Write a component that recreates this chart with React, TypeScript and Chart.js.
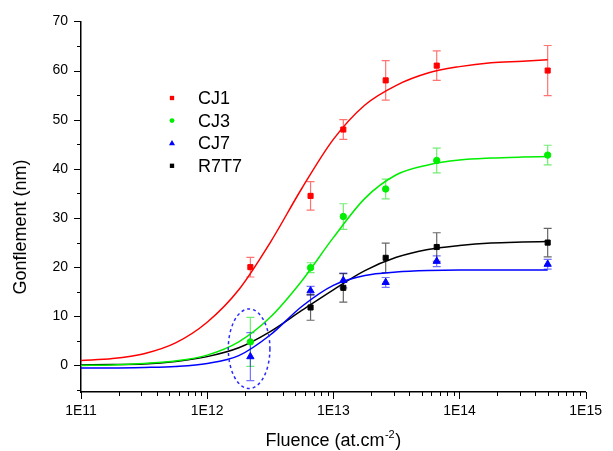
import React, { useEffect, useRef } from 'react';
import { Chart, registerables } from 'chart.js';

Chart.register(...registerables);

// ---------- data ----------
const FLUENCE = [2.2e12, 6.6e12, 1.2e13, 2.6e13, 6.6e13, 5e14];
const CJ1 = [20.0, 34.5, 48.0, 58.0, 61.0, 60.0];
const CJ1_ERR = [2.0, 2.9, 2.0, 4.0, 3.0, 5.1];
const CJ3 = [4.8, 19.9, 30.3, 35.9, 41.7, 42.8];
const CJ3_ERR = [5.0, 1.0, 2.6, 2.0, 2.5, 2.0];
const CJ7 = [1.8, 15.2, 17.3, 16.9, 21.2, 20.6];
const CJ7_ERR = [4.9, 0.9, 1.5, 1.0, 1.1, 1.0];
const R7T7 = [null, 11.8, 15.8, 21.9, 24.1, 25.0];
const R7T7_ERR = [null, 2.6, 2.9, 3.0, 2.9, 2.9];

const CURVE_X = [1e11, 1.78e11, 3.16e11, 5.62e11, 1e12, 1.78e12, 3.16e12, 5.62e12, 1e13, 1.78e13, 3.16e13, 5.62e13, 1e14, 1.78e14, 3.16e14, 5e14];
const CJ1_FIT = [1.0, 1.4, 2.4, 4.6, 8.8, 15.4, 25.0, 36.0, 46.0, 53.0, 57.0, 59.5, 60.8, 61.6, 61.9, 62.2];
const CJ3_FIT = [0.0, 0.1, 0.4, 0.9, 2.1, 4.8, 9.8, 17.2, 26.0, 34.0, 38.8, 40.8, 41.8, 42.2, 42.4, 42.5];
const CJ7_FIT = [-0.5, -0.5, -0.4, -0.2, 0.4, 2.0, 6.2, 12.0, 16.3, 18.3, 19.0, 19.3, 19.4, 19.4, 19.4, 19.4];
const R7T7_FIT = [0.1, 0.2, 0.3, 0.8, 1.8, 3.6, 6.9, 11.2, 15.4, 19.3, 22.0, 23.6, 24.4, 24.9, 25.1, 25.2];

const SERIES_LABELS = ['CJ1', 'CJ3', 'CJ7', 'R7T7'];
const X_TICKS = [1e11, 1e12, 1e13, 1e14, 1e15];
const X_TICK_LABELS = ['1E11', '1E12', '1E13', '1E14', '1E15'];
const X_MINOR_MULT = [2, 3, 4, 5, 6, 7, 8, 9];
const Y_TICKS = [0, 10, 20, 30, 40, 50, 60, 70];
const Y_MINOR = [-5, 5, 15, 25, 35, 45, 55, 65];
const X_MIN = 1e11, X_MAX = 1e15, Y_MIN = -5.4, Y_MAX = 70;

// highlighted group (dashed ellipse) in data units
const ELLIPSE_X = 2.15e12, ELLIPSE_Y = 3.4, ELLIPSE_HALF_DECADES = 0.165, ELLIPSE_HALF_Y = 8.1;

const X_TITLE = 'Fluence (at.cm';
const X_TITLE_SUP = '-2';
const X_TITLE_END = ')';
const Y_TITLE = 'Gonflement (nm)';

// ---------- styles ----------
const FONT = '"Liberation Sans", Arial, sans-serif';
const COLORS = ['#ff0000', '#00ee00', '#0000ff', '#000000'];
const ERR_COLORS = ['rgba(255,0,0,0.55)', 'rgba(0,220,0,0.55)', 'rgba(0,0,255,0.55)', 'rgba(0,0,0,0.6)'];
const STYLES = ['rect', 'circle', 'triangle', 'rect'];
const RADII = [3.6, 3.2, 4.2, 3.6];

const SERIES = [
  { label: SERIES_LABELS[0], values: CJ1, errs: CJ1_ERR, fit: CJ1_FIT },
  { label: SERIES_LABELS[1], values: CJ3, errs: CJ3_ERR, fit: CJ3_FIT },
  { label: SERIES_LABELS[2], values: CJ7, errs: CJ7_ERR, fit: CJ7_FIT },
  { label: SERIES_LABELS[3], values: R7T7, errs: R7T7_ERR, fit: R7T7_FIT },
];

function drawMarker(ctx: CanvasRenderingContext2D, style: string, x: number, y: number, r: number, color: string) {
  ctx.save();
  ctx.fillStyle = color;
  ctx.beginPath();
  if (style === 'rect') {
    const s = r * Math.SQRT1_2;
    ctx.rect(x - s, y - s, 2 * s, 2 * s);
  } else if (style === 'circle') {
    ctx.arc(x, y, r * 0.9, 0, Math.PI * 2);
  } else {
    const h = r * 1.5;
    ctx.moveTo(x, y - h * 0.6);
    ctx.lineTo(x + r * 0.85, y + h * 0.4);
    ctx.lineTo(x - r * 0.85, y + h * 0.4);
    ctx.closePath();
  }
  ctx.fill();
  ctx.restore();
}

const decorPlugin = {
  id: 'decor',
  beforeDatasetsDraw(chart: any) {
    const { ctx, scales } = chart;
    const xs = scales.x, ys = scales.y;
    SERIES.forEach((s, si) => {
      ctx.save();
      ctx.strokeStyle = ERR_COLORS[si];
      ctx.lineWidth = 1.2;
      FLUENCE.forEach((f, i) => {
        const v = s.values[i], e = s.errs[i];
        if (v == null || e == null) return;
        const px = xs.getPixelForValue(f);
        const top = ys.getPixelForValue(v + e);
        const bot = ys.getPixelForValue(v - e);
        ctx.beginPath();
        ctx.moveTo(px, top); ctx.lineTo(px, bot);
        ctx.moveTo(px - 4, top); ctx.lineTo(px + 4, top);
        ctx.moveTo(px - 4, bot); ctx.lineTo(px + 4, bot);
        ctx.stroke();
      });
      ctx.restore();
    });
  },
  afterDraw(chart: any) {
    const { ctx, scales, chartArea } = chart;
    const xs = scales.x, ys = scales.y;
    const { left, right, top, bottom } = chartArea;
    ctx.save();
    // tick marks
    ctx.strokeStyle = '#000';
    ctx.lineWidth = 1;
    ctx.beginPath();
    X_TICKS.forEach((t) => {
      const px = Math.round(xs.getPixelForValue(t)) + 0.5;
      ctx.moveTo(px, bottom); ctx.lineTo(px, bottom + 7);
    });
    X_TICKS.slice(0, -1).forEach((t) => {
      X_MINOR_MULT.forEach((m) => {
        const px = Math.round(xs.getPixelForValue(t * m)) + 0.5;
        ctx.moveTo(px, bottom); ctx.lineTo(px, bottom + 4);
      });
    });
    Y_TICKS.forEach((t) => {
      const py = Math.round(ys.getPixelForValue(t)) + 0.5;
      ctx.moveTo(left, py); ctx.lineTo(left - 7, py);
    });
    Y_MINOR.forEach((t) => {
      const py = Math.round(ys.getPixelForValue(t)) + 0.5;
      ctx.moveTo(left, py); ctx.lineTo(left - 4, py);
    });
    ctx.stroke();

    // dashed ellipse
    const cx = xs.getPixelForValue(ELLIPSE_X);
    const rx = xs.getPixelForValue(ELLIPSE_X * Math.pow(10, ELLIPSE_HALF_DECADES)) - cx;
    const cy = ys.getPixelForValue(ELLIPSE_Y);
    const ry = cy - ys.getPixelForValue(ELLIPSE_Y + ELLIPSE_HALF_Y);
    ctx.beginPath();
    ctx.setLineDash([3, 3]);
    ctx.strokeStyle = '#2a2aff';
    ctx.lineWidth = 1.5;
    ctx.ellipse(cx, cy, rx, ry, 0, 0, Math.PI * 2);
    ctx.stroke();
    ctx.setLineDash([]);

    // legend
    const lx = 172, tx = 198, ly0 = 98, dy = 22.6;
    ctx.font = `18px ${FONT}`;
    ctx.textBaseline = 'middle';
    ctx.textAlign = 'left';
    ctx.fillStyle = '#000';
    SERIES.forEach((s, i) => {
      const yy = ly0 + i * dy;
      drawMarker(ctx, STYLES[i], lx, yy, RADII[i] * 0.85, COLORS[i]);
      ctx.fillStyle = '#000';
      ctx.fillText(s.label, tx, yy + 1);
    });

    // y title
    ctx.save();
    ctx.translate(21, 227);
    ctx.rotate(-Math.PI / 2);
    ctx.textAlign = 'center';
    ctx.textBaseline = 'middle';
    ctx.font = `18px ${FONT}`;
    ctx.fillText(Y_TITLE, 0, 0);
    ctx.restore();

    // x title with superscript
    ctx.font = `18px ${FONT}`;
    const w1 = ctx.measureText(X_TITLE).width;
    const w3 = ctx.measureText(X_TITLE_END).width;
    ctx.font = `11px ${FONT}`;
    const w2 = ctx.measureText(X_TITLE_SUP).width;
    const total = w1 + w2 + w3 + 1;
    const x0 = (left + right) / 2 - total / 2;
    const base = 446;
    ctx.textBaseline = 'alphabetic';
    ctx.textAlign = 'left';
    ctx.font = `18px ${FONT}`;
    ctx.fillText(X_TITLE, x0, base);
    ctx.font = `11px ${FONT}`;
    ctx.fillText(X_TITLE_SUP, x0 + w1 + 0.5, base - 8);
    ctx.font = `18px ${FONT}`;
    ctx.fillText(X_TITLE_END, x0 + w1 + w2 + 1, base);
    ctx.restore();
  },
};

export default function App() {
  const ref = useRef<HTMLCanvasElement | null>(null);
  useEffect(() => {
    if (!ref.current) return;
    const datasets: any[] = [];
    SERIES.forEach((s, i) => {
      datasets.push({
        label: s.label + ' fit',
        data: CURVE_X.map((x, k) => ({ x, y: s.fit[k] })),
        showLine: true,
        borderColor: COLORS[i],
        borderWidth: 1.5,
        pointRadius: 0,
        cubicInterpolationMode: 'monotone',
        order: 2,
      });
    });
    SERIES.forEach((s, i) => {
      datasets.push({
        label: s.label,
        data: FLUENCE.map((x, k) => ({ x, y: s.values[k] })).filter((p) => p.y != null),
        showLine: false,
        pointStyle: STYLES[i],
        pointRadius: RADII[i],
        pointBackgroundColor: COLORS[i],
        pointBorderColor: COLORS[i],
        pointBorderWidth: 1,
        order: 1,
      });
    });
    const chart = new Chart(ref.current, {
      type: 'scatter',
      data: { datasets },
      options: {
        animation: false,
        responsive: false,
        devicePixelRatio: 1,
        layout: { padding: { top: 19, right: 19, left: 0, bottom: 0 } },
        plugins: { legend: { display: false }, tooltip: { enabled: false } },
        scales: {
          x: {
            type: 'logarithmic',
            min: X_MIN,
            max: X_MAX,
            afterBuildTicks: (s: any) => { s.ticks = X_TICKS.map((v) => ({ value: v })); },
            afterFit: (s: any) => { s.height = 59; },
            grid: { display: false, drawTicks: false },
            border: { display: true, color: '#000', width: 1.5 },
            ticks: {
              autoSkip: false,
              maxRotation: 0,
              padding: 11,
              color: '#000',
              font: { family: FONT, size: 14 },
              callback: (_v: any, i: number) => X_TICK_LABELS[i],
            },
          },
          y: {
            type: 'linear',
            min: Y_MIN,
            max: Y_MAX,
            afterBuildTicks: (s: any) => { s.ticks = Y_TICKS.map((v) => ({ value: v })); },
            afterFit: (s: any) => { s.width = 81; },
            grid: { display: false, drawTicks: false },
            border: { display: true, color: '#000', width: 1.5 },
            ticks: {
              padding: 13,
              color: '#000',
              font: { family: FONT, size: 14 },
              callback: (v: any) => String(v),
            },
          },
        },
      },
      plugins: [decorPlugin],
    } as any);
    return () => chart.destroy();
  }, []);
  return (
    <div style={{ position: 'absolute', left: 0, top: 0, width: 613, height: 451, background: '#fff' }}>
      <canvas ref={ref} width={613} height={451} />
    </div>
  );
}
